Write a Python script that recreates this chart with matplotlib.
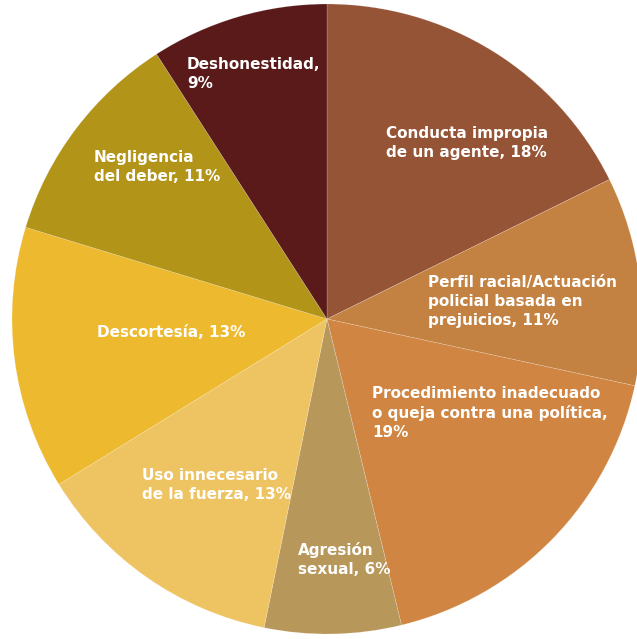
import matplotlib
matplotlib.use("Agg")
import matplotlib.pyplot as plt

labels = [
    "Conducta impropia\nde un agente, 18%",
    "Perfil racial/Actuación\npolicial basada en\nprejuicios, 11%",
    "Procedimiento inadecuado\no queja contra una política,\n19%",
    "Agresión\nsexual, 6%",
    "Uso innecesario\nde la fuerza, 13%",
    "Descortesía, 13%",
    "Negligencia\ndel deber, 11%",
    "Deshonestidad,\n9%",
]
# slice shares as drawn in the picture (clockwise from 12 o'clock)
shares = [17.7, 10.7, 17.8, 7.0, 13.0, 13.5, 11.2, 9.1]
colors = ["#955436", "#C38242", "#D08642", "#B8975A",
          "#EEC463", "#EDB92E", "#B29419", "#5A1A1A"]

# label anchor (top-left) in pixels of the 637x639 canvas
label_pos = [(386, 126), (428, 275), (372, 386), (298, 542),
             (142, 468), (97, 325), (94, 150), (187, 57)]

W, H = 637, 639
fig = plt.figure(figsize=(W / 100, H / 100), dpi=100)
cx, cy, R = 327, 319, 315
ax = fig.add_axes([(cx - R) / W, 1 - (cy + R) / H, 2 * R / W, 2 * R / H])
ax.pie(shares, colors=colors, startangle=90, counterclock=False,
       radius=1, wedgeprops=dict(linewidth=0.4, edgecolor=(1, 1, 1, 0.3)))
ax.set_xlim(-1, 1)
ax.set_ylim(-1, 1)
ax.set_aspect("equal")
ax.axis("off")

for txt, (px, py) in zip(labels, label_pos):
    fig.text(px / W, 1 - py / H, txt, ha="left", va="top", color="white",
             fontsize=11, fontweight="bold", family="DejaVu Sans",
             linespacing=1.32)

fig.savefig("out.png", dpi=100, facecolor="white")
